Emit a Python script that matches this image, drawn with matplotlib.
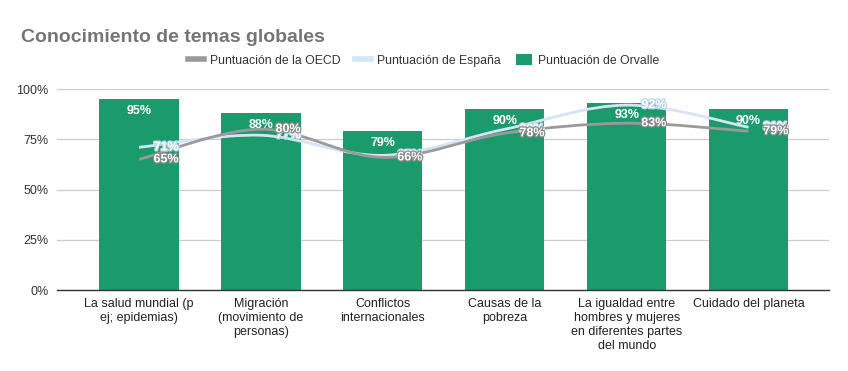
import matplotlib.pyplot as plt
import matplotlib.patheffects as pe
import numpy as np
from matplotlib.lines import Line2D
from matplotlib.patches import Patch, PathPatch
from matplotlib.path import Path

plt.rcParams["font.family"] = ["Liberation Sans", "DejaVu Sans"]

categories = [
    "La salud mundial (p\nej; epidemias)",
    "Migración\n(movimiento de\npersonas)",
    "Conflictos\ninternacionales",
    "Causas de la\npobreza",
    "La igualdad entre\nhombres y mujeres\nen diferentes partes\ndel mundo",
    "Cuidado del planeta",
]
orvalle = [95, 88, 79, 90, 93, 90]
oecd = [65, 80, 66, 78, 83, 79]
espana = [71, 77, 67, 80, 92, 81]

GREEN = "#1b9a6c"
GREY = "#9a9a9a"
BLUE = "#d3e5f5"


def smooth_path(xs, ys):
    # Catmull-Rom spline through the points, drawn as cubic bezier segments
    pts = np.column_stack([xs, ys]).astype(float)
    ext = np.vstack([pts[0], pts, pts[-1]])
    verts = [tuple(pts[0])]
    codes = [Path.MOVETO]
    for i in range(len(pts) - 1):
        p0, p1, p2, p3 = ext[i], ext[i + 1], ext[i + 2], ext[i + 3]
        c1 = p1 + (p2 - p0) / 6
        c2 = p2 - (p3 - p1) / 6
        verts += [tuple(c1), tuple(c2), tuple(p2)]
        codes += [Path.CURVE4] * 3
    return Path(verts, codes)


fig = plt.figure(figsize=(8.48, 3.71), dpi=100)
ax = fig.add_axes([0.0672, 0.2183, 0.9104, 0.5417])

x = np.arange(len(categories))
ax.bar(x, orvalle, width=0.65, color=GREEN, zorder=2)

ax.add_patch(PathPatch(smooth_path(x, espana), fill=False, edgecolor=BLUE, lw=2, zorder=3))
ax.add_patch(PathPatch(smooth_path(x, oecd), fill=False, edgecolor=GREY, lw=2, zorder=4))

for xi, v in zip(x, orvalle):
    ax.annotate(f"{v}%", (xi, v), xytext=(0, -8.8), textcoords="offset points",
                ha="center", va="center", color="white", fontsize=9, fontweight="bold", zorder=6)

for vals, col in ((espana, "#b9d3ea"), (oecd, "#8a8a8a")):
    for xi, v in zip(x, vals):
        ax.annotate(f"{v}%", (xi + 0.325, v), ha="right", va="center", color="white",
                    fontsize=9, fontweight="bold", zorder=7,
                    path_effects=[pe.withStroke(linewidth=1.8, foreground=col)])

ax.set_xlim(-0.673, 5.66)
ax.set_ylim(0, 100)
ax.set_yticks([0, 25, 50, 75, 100])
ax.set_yticklabels([f"{t}%" for t in [0, 25, 50, 75, 100]])
ax.set_xticks(x)
ax.set_xticklabels(categories, fontsize=9, color="#222222", linespacing=1.2)
ax.tick_params(axis="y", length=0, labelsize=9, labelcolor="#333333", pad=6)
ax.tick_params(axis="x", length=0, pad=6)
ax.grid(axis="y", color="#cccccc", lw=0.9, zorder=0)
ax.set_axisbelow(True)
for s in ["top", "right", "left"]:
    ax.spines[s].set_visible(False)
ax.spines["bottom"].set_color("#333333")
ax.spines["bottom"].set_linewidth(1)
ax.spines["bottom"].set_zorder(5)

fig.text(0.025, 0.9, "Conocimiento de temas globales", fontsize=14, fontweight="bold",
         color="#757575", va="center")

handles = [
    Line2D([], [], color=GREY, lw=4),
    Line2D([], [], color=BLUE, lw=4),
    Patch(facecolor=GREEN),
]
labels = ["Puntuación de la OECD", "Puntuación de España", "Puntuación de Orvalle"]
fig.legend(handles, labels, loc="center", bbox_to_anchor=(0.4994, 0.838), ncol=3, frameon=False,
           fontsize=8.8, handlelength=1.3, handleheight=1.1, handletextpad=0.5, columnspacing=1.2,
           labelcolor="#333333")

fig.savefig("out.png", dpi=100)
